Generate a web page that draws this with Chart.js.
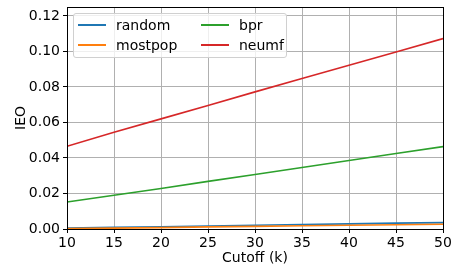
<!DOCTYPE html>
<html>
<head>
<meta charset="utf-8">
<script src="https://cdn.jsdelivr.net/npm/chart.js@4.4.1/dist/chart.umd.min.js"></script>
<style>
  html, body { margin: 0; padding: 0; background: #fff; }
  #wrap { position: relative; width: 451px; height: 267px; }
  #legend {
    position: absolute; left: 73px; top: 13px; width: 212px; height: 43px;
    border: 1px solid #d0d0d0; border-radius: 3px; background: rgba(255,255,255,0.8);
    font-family: "DejaVu Sans", sans-serif; font-size: 14px; color: #000;
  }
  .item { position: absolute; height: 16px; line-height: 16px; }
  .item span.swatch { position: absolute; left: 0; top: 7px; width: 28px; height: 2px; }
  .item span.lbl { position: absolute; left: 38px; top: 0; white-space: nowrap; }
</style>
</head>
<body>
<div id="wrap">
  <canvas id="chart" width="451" height="267"></canvas>
  <div id="legend"></div>
</div>
<script>
// 🔹 DATA
const cutoffs = [10, 15, 20, 25, 30, 35, 40, 45, 50];
const random  = [0.0005, 0.0009, 0.0013, 0.0017, 0.0021, 0.0025, 0.0029, 0.0033, 0.0036];
const mostpop = [0.0002, 0.0005, 0.0008, 0.0012, 0.0015, 0.0018, 0.0021, 0.0024, 0.0027];
const bpr     = [0.0152, 0.0190, 0.0228, 0.0268, 0.0307, 0.0346, 0.0386, 0.0425, 0.0464];
const neumf   = [0.0466, 0.0545, 0.0620, 0.0695, 0.0772, 0.0847, 0.0922, 0.0997, 0.1072];
const xTicks = [10, 15, 20, 25, 30, 35, 40, 45, 50];
const yTicks = [0, 0.02, 0.04, 0.06, 0.08, 0.10, 0.12];

const seriesNames = ["random", "mostpop", "bpr", "neumf"];
const seriesData = [random, mostpop, bpr, neumf];
const colors = ["#1f77b4", "#ff7f0e", "#2ca02c", "#d62728"];

// 🔹 LEGEND (2 columns, like matplotlib ncol=2)
const legend = document.getElementById("legend");
seriesNames.forEach((name, i) => {
  const col = Math.floor(i / 2), row = i % 2;
  const div = document.createElement("div");
  div.className = "item";
  div.style.left = (4 + col * 123) + "px";
  div.style.top = (3 + row * 20) + "px";
  div.innerHTML = '<span class="swatch" style="background:' + colors[i] + '"></span><span class="lbl">' + name + '</span>';
  legend.appendChild(div);
});

// 🔹 FRAME (top/right spines)
const frame = {
  id: "frame",
  afterDraw(chart) {
    const { ctx, chartArea: a } = chart;
    ctx.save();
    ctx.strokeStyle = "#000";
    ctx.lineWidth = 1;
    ctx.strokeRect(Math.round(a.left) + 0.5, Math.round(a.top) + 0.5, Math.round(a.right - a.left), Math.round(a.bottom - a.top));
    ctx.restore();
  }
};

Chart.defaults.font.family = "'DejaVu Sans', sans-serif";
Chart.defaults.font.size = 14;
Chart.defaults.color = "#000";

new Chart(document.getElementById("chart"), {
  type: "line",
  data: {
    datasets: seriesNames.map((name, i) => ({
      label: name,
      data: cutoffs.map((c, j) => ({ x: c, y: seriesData[i][j] })),
      borderColor: colors[i],
      backgroundColor: colors[i],
      borderWidth: 1.6,
      pointRadius: 0,
      tension: 0,
      order: seriesNames.length - i
    }))
  },
  options: {
    responsive: false,
    animation: false,
    layout: { padding: { left: 0, right: 8, top: 7, bottom: 0 } },
    plugins: { legend: { display: false }, tooltip: { enabled: false } },
    scales: {
      x: {
        type: "linear",
        min: 10,
        max: 50,
        afterBuildTicks: s => { s.ticks = xTicks.map(v => ({ value: v })); },
        afterFit: s => { s.height = 38; s.paddingLeft = 0; s.paddingRight = 0; },
        grid: { color: "#b0b0b0", lineWidth: 1, tickLength: 4, tickColor: "#000" },
        border: { display: true, color: "#000" },
        ticks: { padding: 2, maxRotation: 0, autoSkip: false, callback: v => String(v) },
        title: { display: true, text: "Cutoff (k)", padding: { top: 2, bottom: 0 } }
      },
      y: {
        min: 0,
        max: 0.125,
        afterBuildTicks: s => { s.ticks = yTicks.map(v => ({ value: v })); },
        afterFit: s => { s.width = 67; s.paddingTop = 0; s.paddingBottom = 0; },
        grid: { color: "#b0b0b0", lineWidth: 1, tickLength: 4, tickColor: "#000" },
        border: { display: true, color: "#000" },
        ticks: { padding: 3, autoSkip: false, callback: v => v.toFixed(2) },
        title: { display: true, text: "IEO", padding: { top: 13, bottom: 0 } }
      }
    }
  },
  plugins: [frame]
});
</script>
</body>
</html>
